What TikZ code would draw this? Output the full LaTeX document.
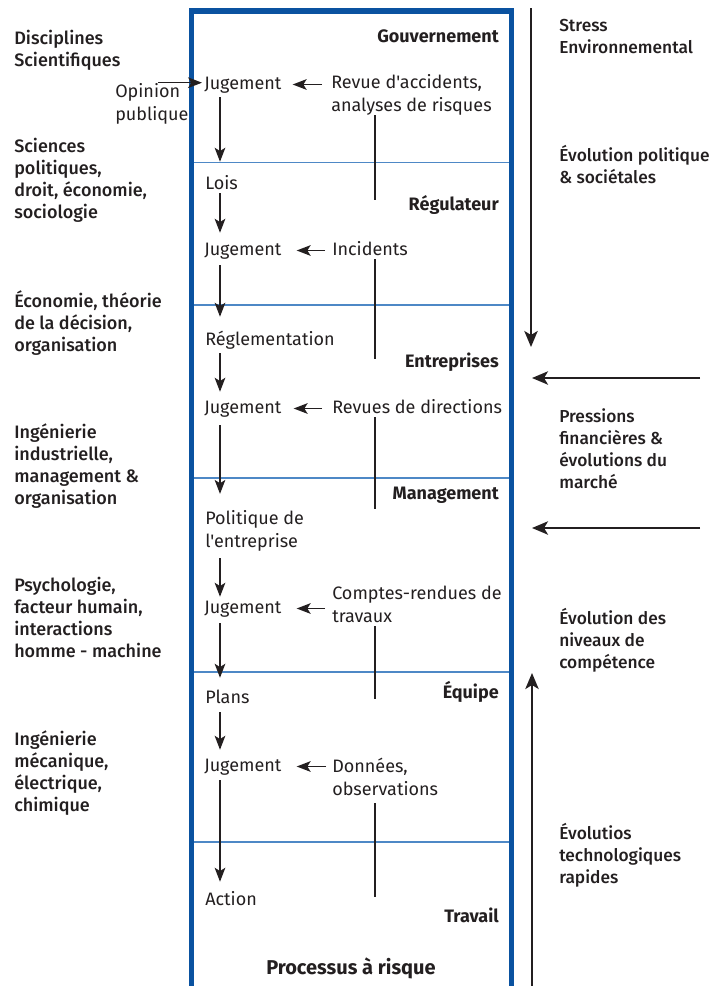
\documentclass[tikz,border=0pt]{standalone}
\usepackage{fontspec}
\setmainfont{Fira Sans}
\newfontfamily\plainfont{Fira Sans}
\newfontfamily\medfont{Fira Sans Medium}
\usetikzlibrary{arrows.meta}
\definecolor{frameblue}{RGB}{10,82,160}
\definecolor{laneblue}{RGB}{78,136,198}
\definecolor{ink}{RGB}{35,31,32}
\tikzset{
  base/.style={text=ink, inner sep=0pt, align=left},
  inner/.style={base, font=\plainfont\fontsize{13.5}{16.7}\selectfont, anchor=base west},
  one/.style={inner, text height=9.75pt, text depth=3pt},
  side/.style={base, font=\medfont\fontsize{13.5}{16.7}\selectfont, anchor=base west},
  rside/.style={side, font=\medfont\fontsize{13}{16.7}\selectfont},
  level/.style={base, font=\bfseries\fontsize{13.5}{16.7}\selectfont, anchor=base east},
  flow/.style={draw=ink, line width=1pt, -{Stealth[length=10.5pt,width=8pt,inset=2.5pt]}},
  feed/.style={draw=ink, line width=0.8pt},
  force/.style={draw=ink, line width=1.7pt, -{Stealth[length=12pt,width=10pt,inset=3pt]}},
  lane/.style={draw=laneblue, line width=0.8pt},
}
\begin{document}
\begin{tikzpicture}[x=0.75pt,y=-0.75pt]
\useasboundingbox (0,0) rectangle (710,986);

% frame of the process column
\draw[frameblue, line width=3.8pt, line join=miter] (191.5,990) -- (191.5,11) -- (511.5,11) -- (511.5,990);
\foreach \yy in {162.5,305,478,672,842}
  \draw[lane] (194,\yy) -- (509,\yy);

% level names
\node[level] (gov) at (499,42) {Gouvernement};
\node[level] (reg-l) at (499,210) {Régulateur};
\node[level] (ent) at (499,367) {Entreprises};
\node[level] (man) at (499,499) {Management};
\node[level] (equ) at (499,698) {Équipe};
\node[level] (trav) at (499,922) {Travail};
\node[base, font=\bfseries\fontsize{15}{18}\selectfont, anchor=base] (proc) at (351,974) {Processus à risque};

% decision chain (multi-line nodes sit on the baseline of their last line)
\node[one] (j1) at (204,89) {Jugement};
\node[one] (lois) at (205,189) {Lois};
\node[one] (j2) at (204,255) {Jugement};
\node[one] (regl) at (205,345) {Réglementation};
\node[one] (j3) at (204,413) {Jugement};
\node[inner] (pol) at (205,547) {Politique de\\l'entreprise};
\node[one] (j4) at (204,613) {Jugement};
\node[one] (plans) at (205,703) {Plans};
\node[one] (j5) at (204,771) {Jugement};
\node[one] (act) at (205,905) {Action};

\coordinate (cx) at (220,0);
\draw[flow, shorten <=3pt, shorten >=10.5pt] (j1.south -| cx) -- (lois.north -| cx);
\draw[flow, shorten <=0pt, shorten >=6.75pt] (lois.south -| cx) -- (j2.north -| cx);
\draw[flow, shorten <=4.5pt, shorten >=11.25pt] (j2.south -| cx) -- (regl.north -| cx);
\draw[flow, shorten <=3pt, shorten >=6pt] (regl.south -| cx) -- (j3.north -| cx);
\draw[flow, shorten <=6pt, shorten >=12.4pt] (j3.south -| cx) -- (pol.north -| cx);
\draw[flow, shorten <=5.25pt, shorten >=2.25pt] (pol.south -| cx) -- (j4.north -| cx);
\draw[flow, shorten <=4.5pt, shorten >=9pt] (j4.south -| cx) -- (plans.north -| cx);
\draw[flow, shorten <=3.75pt, shorten >=6pt] (plans.south -| cx) -- (j5.north -| cx);
\draw[flow, shorten <=3.75pt, shorten >=7.5pt] (j5.south -| cx) -- (act.north -| cx);

% feedback sources
\node[inner] (rev) at (331,111) {Revue d'accidents,\\analyses de risques};
\node[one] (inc) at (332,255) {Incidents};
\node[one] (revd) at (332,413) {Revues de directions};
\node[inner] (cr) at (332,622) {Comptes-rendues de\\travaux};
\node[inner] (don) at (332,795) {Données,\\observations};
\node[inner] (opin) at (115,120) {Opinion\\publique};

\draw[flow, shorten <=6.75pt, shorten >=8.25pt] (rev.west |- j1.east) -- (j1.east);
\draw[flow, shorten <=5.25pt, shorten >=11.25pt] (inc.west |- j2.east) -- (j2.east);
\draw[flow, shorten <=7.5pt, shorten >=9pt] (revd.west |- j3.east) -- (j3.east);
\draw[flow, shorten <=5.25pt, shorten >=11.25pt] (cr.west |- j4.east) -- (j4.east);
\draw[flow, shorten <=4.5pt, shorten >=11.25pt] (don.west |- j5.east) -- (j5.east);
\coordinate (opstart) at (158,82.7);
\draw[flow, shorten >=1.5pt] (opstart) -- (opstart -| j1.west);

% feedback lines
\coordinate (vx) at (375,0);
\coordinate (e1) at (375,200);
\coordinate (e2) at (375,359);
\coordinate (e3) at (375,509);
\coordinate (e4) at (375,699);
\coordinate (e5) at (375,897);
\draw[feed] (rev.south -| vx) -- (e1);
\draw[feed] (inc.south -| vx) -- (e2);
\draw[feed] (revd.south -| vx) -- (e3);
\draw[feed, shorten <=3pt] (cr.south -| vx) -- (e4);
\draw[feed, shorten <=6pt] (don.south -| vx) -- (e5);

% disciplines
\node[side] (d1) at (14,66.3) {Disciplines\\Scientifiques};
\node[side] (d2) at (14,218.9) {Sciences\\politiques,\\droit, économie,\\sociologie};
\node[side] (d3) at (14,351.6) {Économie, théorie\\de la décision,\\organisation};
\node[side] (d4) at (14,504.9) {Ingénierie\\industrielle,\\management \&\\organisation};
\node[side] (d5) at (14,657.9) {Psychologie,\\facteur humain,\\interactions\\homme - machine};
\node[side] (d6) at (14,811.9) {Ingénierie\\mécanique,\\électrique,\\chimique};

% external pressures
\node[rside] (p1) at (559,53.3) {Stress\\Environnemental};
\node[rside] (p2) at (559,183.3) {Évolution politique\\\& sociétales};
\node[rside] (p3) at (559,488.9) {Pressions\\financières \&\\évolutions du\\marché};
\node[rside] (p4) at (559,668.6) {Évolution des\\niveaux de\\compétence};
\node[rside] (p5) at (559,883.6) {Évolutios\\technologiques\\rapides};

\coordinate (f1a) at (531,8);
\coordinate (f1b) at (531,347);
\coordinate (f2a) at (700,378);
\coordinate (f2b) at (532,378);
\coordinate (f3a) at (700,528);
\coordinate (f3b) at (532,528);
\coordinate (f4a) at (532,990);
\coordinate (f4b) at (532,673);
\draw[force] (f1a) -- (f1b);
\draw[force] (f2a) -- (f2b);
\draw[force] (f3a) -- (f3b);
\draw[force] (f4a) -- (f4b);
\end{tikzpicture}
\end{document}
